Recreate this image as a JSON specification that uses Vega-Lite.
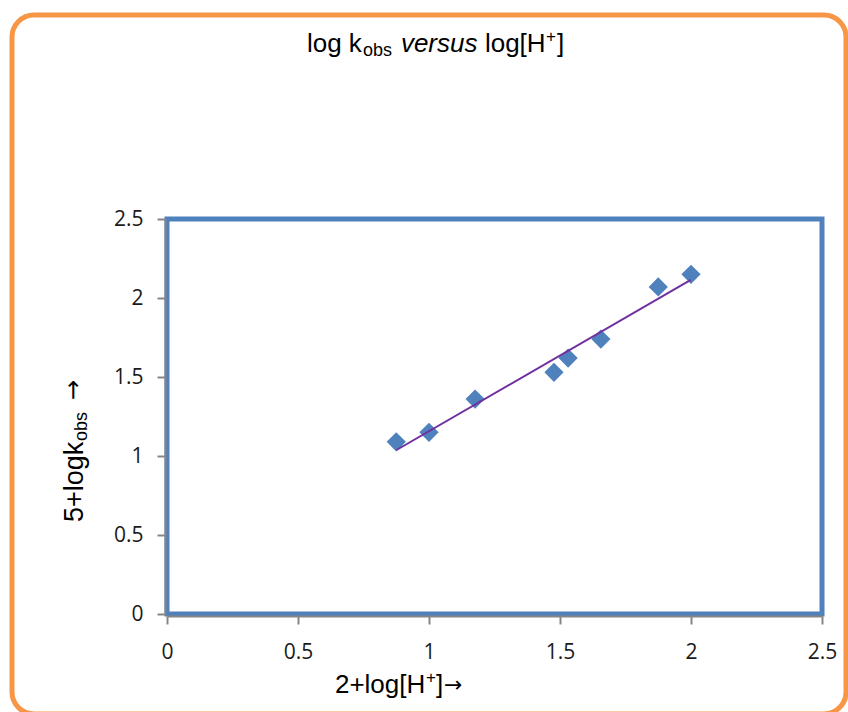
{
  "$schema": "https://vega.github.io/schema/vega-lite/v6.json",
  "width": 655,
  "height": 395,
  "autosize": {"type": "none"},
  "padding": {"left": 167, "top": 219, "right": 26, "bottom": 98},
  "background": "white",
  "config": {
    "view": {"stroke": "#4F81BD", "strokeWidth": 5},
    "axis": {
      "grid": false,
      "title": null,
      "domainColor": "#868686",
      "domainWidth": 2,
      "tickColor": "#868686",
      "tickWidth": 2,
      "tickSize": 8,
      "offset": 2,
      "labelFont": "Open Sans",
      "labelFontSize": 21,
      "labelColor": "#1a1a1a",
      "labelFlush": false,
      "labelOverlap": false,
      "format": "~g"
    },
    "axisX": {"labelPadding": 17},
    "axisY": {"labelPadding": 14},
    "text": {"font": "Liberation Sans", "color": "#000000", "align": "left", "baseline": "alphabetic"}
  },
  "layer": [
    {
      "data": {"values": [{}]},
      "mark": {"type": "rect", "cornerRadius": 22, "fill": "transparent", "stroke": "#F79646", "strokeWidth": 5},
      "encoding": {
        "x": {"datum": -0.5916, "type": "quantitative", "scale": {"domain": [0, 2.5], "nice": false, "zero": false}},
        "x2": {"datum": 2.5916},
        "y": {"datum": 3.791, "type": "quantitative", "scale": {"domain": [0, 2.5], "nice": false, "zero": false}},
        "y2": {"datum": -0.633}
      }
    },
    {
      "data": {"values": [
        {"x": 0.875, "y": 1.09},
        {"x": 1.0, "y": 1.15},
        {"x": 1.176, "y": 1.36},
        {"x": 1.477, "y": 1.53},
        {"x": 1.531, "y": 1.62},
        {"x": 1.656, "y": 1.74},
        {"x": 1.875, "y": 2.07},
        {"x": 2.0, "y": 2.15}
      ]},
      "mark": {"type": "point", "shape": "diamond", "filled": true, "color": "#4F81BD", "opacity": 1, "size": 370},
      "encoding": {
        "x": {"field": "x", "type": "quantitative", "scale": {"domain": [0, 2.5], "nice": false, "zero": false}, "axis": {"values": [0, 0.5, 1, 1.5, 2, 2.5], "labelFontSize": 21, "labelFlush": false}},
        "y": {"field": "y", "type": "quantitative", "scale": {"domain": [0, 2.5], "nice": false, "zero": false}, "axis": {"values": [0, 0.5, 1, 1.5, 2, 2.5], "labelFontSize": 21}}
      }
    },
    {
      "data": {"values": [
        {"x": 0.876, "y": 1.038},
        {"x": 1.999, "y": 2.114}
      ]},
      "mark": {"type": "line", "color": "#7030A0", "strokeWidth": 2},
      "encoding": {
        "x": {"field": "x", "type": "quantitative", "scale": {"domain": [0, 2.5], "nice": false, "zero": false}},
        "y": {"field": "y", "type": "quantitative", "scale": {"domain": [0, 2.5], "nice": false, "zero": false}}
      }
    },
    {
      "data": {"values": [{}]},
      "layer": [
        {"mark": {"type": "text", "text": "log k", "fontSize": 26, "dx": 0}},
        {"mark": {"type": "text", "text": "obs", "fontSize": 18, "dx": 56, "dy": 4}},
        {"mark": {"type": "text", "text": "versus", "fontSize": 26, "fontStyle": "italic", "dx": 94}},
        {"mark": {"type": "text", "text": "log[H", "fontSize": 26, "dx": 178}},
        {"mark": {"type": "text", "text": "+", "fontSize": 17, "dx": 239, "dy": -10}},
        {"mark": {"type": "text", "text": "]", "fontSize": 26, "dx": 250}}
      ],
      "encoding": {
        "x": {"datum": 0.534, "type": "quantitative", "scale": {"domain": [0, 2.5], "nice": false, "zero": false}},
        "y": {"datum": 3.557, "type": "quantitative", "scale": {"domain": [0, 2.5], "nice": false, "zero": false}}
      }
    },
    {
      "data": {"values": [{}]},
      "layer": [
        {"mark": {"type": "text", "text": "2+log[H", "fontSize": 26, "dx": 0}},
        {"mark": {"type": "text", "text": "+", "fontSize": 17, "dx": 91, "dy": -10}},
        {"mark": {"type": "text", "text": "]", "fontSize": 26, "dx": 101}},
        {"mark": {"type": "text", "text": "→", "font": "DejaVu Sans", "fontSize": 22, "dx": 109, "dy": -1}}
      ],
      "encoding": {
        "x": {"datum": 0.641, "type": "quantitative", "scale": {"domain": [0, 2.5], "nice": false, "zero": false}},
        "y": {"datum": -0.5, "type": "quantitative", "scale": {"domain": [0, 2.5], "nice": false, "zero": false}}
      }
    },
    {
      "data": {"values": [{}]},
      "layer": [
        {"mark": {"type": "text", "text": "5+logk", "fontSize": 27, "angle": 270, "dx": 0}},
        {"mark": {"type": "text", "text": "obs", "fontSize": 18, "angle": 270, "dx": 81, "dy": 4}},
        {"mark": {"type": "text", "text": "→", "font": "DejaVu Sans", "fontSize": 24, "angle": 270, "dx": 122, "dy": -2}}
      ],
      "encoding": {
        "x": {"datum": -0.3206, "type": "quantitative", "scale": {"domain": [0, 2.5], "nice": false, "zero": false}},
        "y": {"datum": 0.582, "type": "quantitative", "scale": {"domain": [0, 2.5], "nice": false, "zero": false}}
      }
    }
  ]
}
